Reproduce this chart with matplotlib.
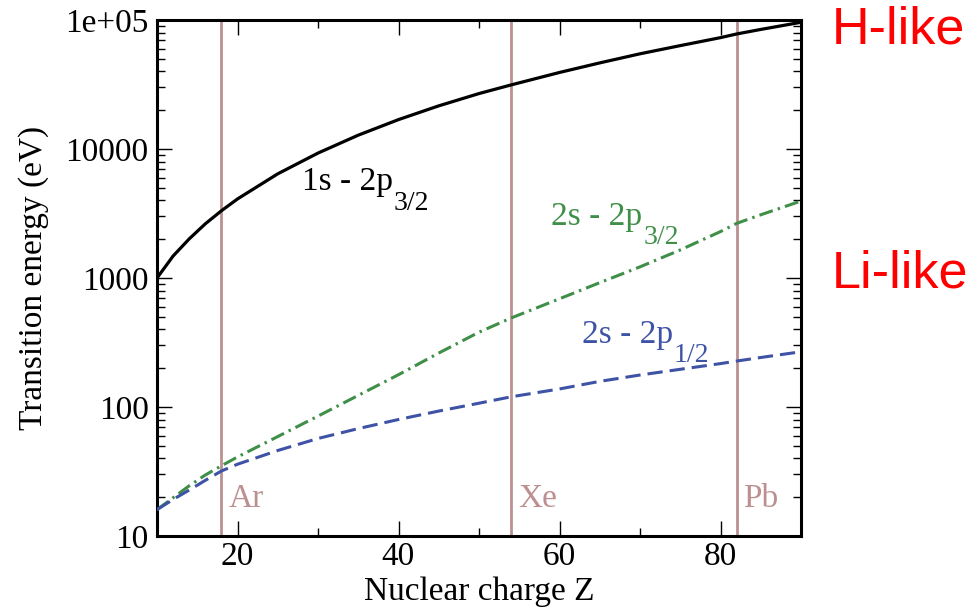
import matplotlib
matplotlib.use('Agg')
import matplotlib.pyplot as plt
from matplotlib.ticker import MultipleLocator, LogLocator, FixedFormatter, FixedLocator, NullFormatter

plt.rcParams['font.family'] = ['Liberation Serif', 'DejaVu Serif']

# Nuclear charge Z
z = [10, 12, 14, 16, 18, 20, 25, 30, 35, 40, 45, 50, 54, 60, 65, 70, 75, 80, 82, 85, 90]

# H-like 1s - 2p3/2 (eV)
e_1s2p32 = [1000, 1480, 2010, 2630, 3320, 4100, 6420, 9300, 12800, 16900, 21600,
            26900, 31400, 39200, 46500, 54700, 63300, 73000, 77900, 84500, 96000]

# Li-like 2s - 2p3/2 (eV)
e_2s2p32 = [16.0, 19.8, 24.5, 29.7, 35.0, 41, 59, 85, 123, 178, 262,
            380, 490, 690, 920, 1220, 1650, 2290, 2650, 3090, 3950]

# Li-like 2s - 2p1/2 (eV)
e_2s2p12 = [16.0, 19.2, 22.7, 27.0, 31.9, 36.0, 46, 57, 68, 80, 93,
            107, 120, 138, 158, 177, 196, 217, 227, 242, 268]

elementos = ['Ar', 'Xe', 'Pb']
z_elementos = [18, 54, 82]

yticks = [10, 100, 1000, 10000, 100000]
ytick_labels = ['10', '100', '1000', '10000', '1e+05']

cor_linha = '#bc9090'
verde = '#3f8f48'
azul = '#3e52a6'

fig = plt.figure(figsize=(9.77, 6.11), dpi=100)
ax = fig.add_axes([157 / 977, 1 - 536 / 611, 644 / 977, 516 / 611])

# linhas verticais dos elementos
for nome, zz in zip(elementos, z_elementos):
    ax.axvline(zz, color=cor_linha, lw=2.0, zorder=1)
    ax.text(zz + 0.85, 16.9, nome, color=cor_linha, fontsize=24, ha='left', va='baseline')

ax.plot(z, e_1s2p32, color='black', lw=2.3, zorder=3)
ax.plot(z, e_2s2p32, color=verde, lw=2.2, dashes=[4.6, 1.7, 0.8, 1.7], zorder=3)
ax.plot(z, e_2s2p12, color=azul, lw=2.2, dashes=[5.0, 2.3], zorder=3)


def rotulo(x, y, texto, sub, cor):
    # texto principal e subscrito separado (subscrito grande, como no original)
    t = ax.text(x, y, texto, fontsize=24, color=cor, ha='left', va='baseline')
    ax.annotate(sub, xy=(1, 0), xycoords=t, xytext=(0.5, -9), textcoords='offset points',
                fontsize=20, color=cor, ha='left', va='baseline')


rotulo(28.0, 4810, '1s - 2p', '3/2', 'black')
rotulo(59.0, 2576, '2s - 2p', '3/2', verde)
rotulo(62.75, 316, '2s - 2p', '1/2', azul)

ax.set_yscale('log')
ax.set_xlim(10, 90)
ax.set_ylim(10, 100000)

ax.xaxis.set_major_locator(MultipleLocator(20))
ax.xaxis.set_minor_locator(MultipleLocator(10))
ax.yaxis.set_major_locator(FixedLocator(yticks))
ax.yaxis.set_major_formatter(FixedFormatter(ytick_labels))
ax.yaxis.set_minor_locator(LogLocator(base=10, subs=range(2, 10)))
ax.yaxis.set_minor_formatter(NullFormatter())

ax.tick_params(which='both', direction='in', top=True, right=True, labelsize=24)
ax.tick_params(axis='x', which='major', length=11, width=1.0, pad=4)
ax.tick_params(axis='x', which='minor', length=6, width=1.0)
ax.tick_params(axis='y', which='major', length=11, width=1.0, pad=6)
ax.tick_params(axis='y', which='minor', length=6, width=1.0)

for s in ax.spines.values():
    s.set_linewidth(2.2)

ax.set_xlabel('Nuclear charge Z', fontsize=24, labelpad=3)
ax.set_ylabel('Transition energy (eV)', fontsize=24, labelpad=12)

# rótulos em vermelho fora do gráfico
fig.text(832 / 977, 1 - 43 / 611, 'H-like', color='red', fontsize=37.5,
         family='Liberation Sans', ha='left', va='baseline')
fig.text(832 / 977, 1 - 287 / 611, 'Li-like', color='red', fontsize=37.5,
         family='Liberation Sans', ha='left', va='baseline')

fig.savefig('out.png', dpi=100)
